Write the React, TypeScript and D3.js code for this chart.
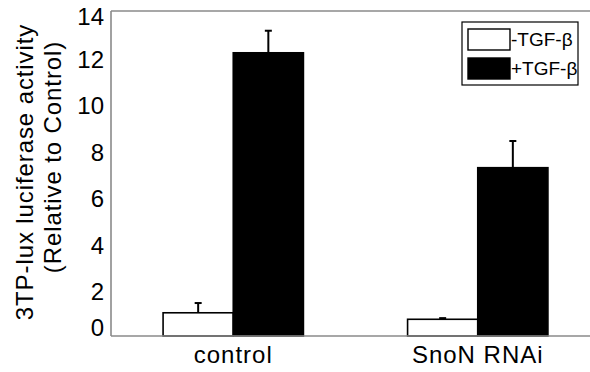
import React from 'react';
import * as d3 from 'd3';

const width = 590;
const height = 372;
const margin = { top: 11, right: -10, bottom: 36, left: 111 };

const groups = ['control', 'SnoN RNAi'];
const series = ['-TGF-β', '+TGF-β'];
const seriesFill = ['#ffffff', '#000000'];
const minusValues = [1.0, 0.72];
const minusErrors = [0.42, 0.05];
const plusValues = [12.2, 7.25];
const plusErrors = [0.95, 1.15];
const yTicks = [0, 2, 4, 6, 8, 10, 12, 14];

const font = '"Liberation Sans", Arial, Helvetica, sans-serif';

const App = () => {
  const x0 = d3
    .scaleBand()
    .domain(groups)
    .range([margin.left, width - margin.right])
    .paddingInner(0.426)
    .paddingOuter(0.213);

  const x1 = d3.scaleBand().domain(series).range([0, x0.bandwidth()]);

  const y = d3
    .scaleLinear()
    .domain([0, 14])
    .range([height - margin.bottom, margin.top]);

  const bars = [];
  groups.forEach((g, gi) => {
    const vals = [minusValues[gi], plusValues[gi]];
    const errs = [minusErrors[gi], plusErrors[gi]];
    series.forEach((s, si) => {
      bars.push({ g, s, si, v: vals[si], e: errs[si] });
    });
  });

  const axisColor = '#8a8a8a';
  // tick labels sit a little inside the frame at both ends
  const labelY = (t) => Math.min(Math.max(y(t) + 2, margin.top + 6), y(0) - 8);

  return (
    <svg
      width={width}
      height={height}
      style={{ position: 'absolute', left: 0, top: 0, background: '#fff' }}
    >
      {/* frame */}
      <line x1={margin.left} x2={margin.left} y1={y(14)} y2={y(0)} stroke={axisColor} strokeWidth={1.6} />
      <line x1={margin.left} x2={width + 10} y1={y(14)} y2={y(14)} stroke={axisColor} strokeWidth={1.6} />

      {/* bars */}
      {bars.map((b, i) => {
        const bx = x0(b.g) + x1(b.s);
        const cx = bx + x1.bandwidth() / 2;
        return (
          <g key={i}>
            <line x1={cx} x2={cx} y1={y(b.v)} y2={y(b.v + b.e)} stroke="#000" strokeWidth={2} />
            <line x1={cx - 3.5} x2={cx + 3.5} y1={y(b.v + b.e)} y2={y(b.v + b.e)} stroke="#000" strokeWidth={2} />
            <rect
              x={bx}
              y={y(b.v)}
              width={x1.bandwidth()}
              height={y(0) - y(b.v)}
              fill={seriesFill[b.si]}
              stroke="#000"
              strokeWidth={1.6}
            />
          </g>
        );
      })}

      <line x1={margin.left} x2={width + 10} y1={y(0)} y2={y(0)} stroke={axisColor} strokeWidth={1.6} />

      {/* y tick labels */}
      {yTicks.map((t) => (
        <text
          key={t}
          x={104}
          y={labelY(t)}
          dy="0.35em"
          textAnchor="end"
          fontFamily={font}
          fontSize={24}
        >
          {t}
        </text>
      ))}

      {/* x labels */}
      {groups.map((g) => (
        <text
          key={g}
          x={x0(g) + x0.bandwidth() / 2}
          y={363}
          textAnchor="middle"
          fontFamily={font}
          fontSize={24}
          letterSpacing={1}
        >
          {g}
        </text>
      ))}

      {/* y title */}
      <text
        transform="translate(33,172) rotate(-90)"
        textAnchor="middle"
        fontFamily={font}
        fontSize={24}
        letterSpacing={0.9}
      >
        3TP-lux luciferase activity
      </text>
      <text
        transform="translate(61,157) rotate(-90)"
        textAnchor="middle"
        fontFamily={font}
        fontSize={24}
        letterSpacing={0.9}
      >
        (Relative to Control)
      </text>

      {/* legend */}
      <g transform="translate(462,22)">
        <rect x={0} y={0} width={116} height={63} fill="#fff" stroke="#000" strokeWidth={1.2} />
        {series.map((s, i) => (
          <g key={s} transform={`translate(6,${7 + i * 29})`}>
            <rect x={0} y={0} width={42} height={21} fill={seriesFill[i]} stroke="#000" strokeWidth={1.4} />
            <text x={43} y={17} fontFamily={font} fontSize={19}>
              {s}
            </text>
          </g>
        ))}
      </g>
    </svg>
  );
};

export default App;
